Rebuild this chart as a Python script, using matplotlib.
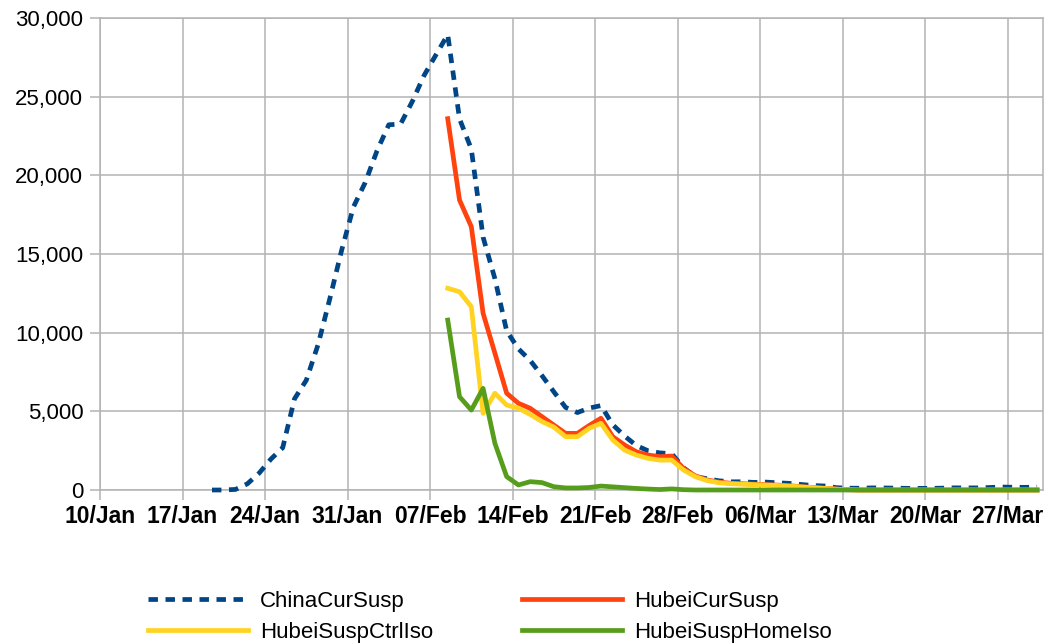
import matplotlib
matplotlib.use("Agg")
import matplotlib.pyplot as plt
import matplotlib.dates as mdates
import pandas as pd

# daily values, points sit at noon of each day
china_start = "2020-01-19"
hubei_start = "2020-02-08"
last_day = "2020-03-29"

china_cur_susp = [0, 0, 37, 393, 1072, 1965, 2684, 5794, 6973, 9239, 12167, 15238, 17988,
                  19544, 21558, 23214, 23260, 24702, 26359, 27657, 28942, 23589, 21675,
                  16067, 13435, 10109, 8969, 8228, 7264, 6242, 5248, 4922, 5206, 5365,
                  4148, 3434, 2824, 2491, 2358, 2308, 1418, 851,
                  715, 587, 520, 522, 482, 502, 458, 421, 349, 285, 253, 147, 115, 113,
                  134, 128, 119, 105, 104, 106, 118, 136, 132, 134, 159, 189, 174, 168, 183]

hubei_cur_susp = [23600, 18430, 16740, 11230, 8700, 6150, 5510, 5190, 4660, 4130, 3600,
                  3600, 4100, 4560, 3390, 2860, 2430, 2220, 2120, 2160, 1380, 900,
                  640, 500, 430, 400, 370, 340, 310, 270, 210, 160, 110, 60, 20,
                  0, 0, 0, 0, 0, 0, 0, 0, 0, 0, 0, 0, 0, 0, 0, 0]

hubei_susp_ctrl_iso = [12820, 12600, 11650, 4870, 6150, 5400, 5200, 4800, 4350, 4000, 3390,
                       3390, 3920, 4240, 3180, 2540, 2220, 2010, 1900, 1900, 1270, 850,
                       600, 460, 400, 370, 340, 320, 290, 250, 200, 150, 100, 50, 20,
                       0, 0, 0, 0, 0, 0, 0, 0, 0, 0, 0, 0, 0, 0, 0, 0]

hubei_susp_home_iso = [10800, 5930, 5080, 6460, 2970, 850, 320, 530, 470, 210, 130,
                       130, 160, 250, 200, 150, 100, 60, 30, 70, 20, 0,
                       0, 0, 0, 0, 0, 0, 0, 0, 0, 0, 0, 0, 0,
                       0, 0, 0, 0, 0, 0, 0, 0, 0, 0, 0, 0, 0, 0, 0, 0]

tick_dates = pd.date_range("2020-01-10", periods=12, freq="7D")

china_x = pd.date_range(china_start, last_day) + pd.Timedelta(hours=12)
hubei_x = pd.date_range(hubei_start, last_day) + pd.Timedelta(hours=12)

grid_col = "#b3b3b3"

fig = plt.figure(figsize=(10.56, 6.44), dpi=100)
ax = fig.add_axes([100 / 1056, 1 - 490 / 644, 943 / 1056, 472 / 644])

common = dict(lw=3.4, clip_on=False, zorder=3)
l1, = ax.plot(china_x, china_cur_susp, color="#004586", ls=(0, (2.0, 1.6)),
              label="ChinaCurSusp", **common)
l2, = ax.plot(hubei_x, hubei_cur_susp, color="#ff420e", label="HubeiCurSusp", **common)
l3, = ax.plot(hubei_x, hubei_susp_ctrl_iso, color="#ffd320", label="HubeiSuspCtrlIso",
              **common)
l4, = ax.plot(hubei_x, hubei_susp_home_iso, color="#579d1c", label="HubeiSuspHomeIso",
              **common)

ax.set_xlim(pd.Timestamp("2020-01-10"), pd.Timestamp("2020-03-30"))
ax.set_ylim(0, 30000)
ax.set_xticks(tick_dates)
ax.xaxis.set_major_formatter(mdates.DateFormatter("%d/%b"))
ax.set_yticks(range(0, 30001, 5000))
ax.yaxis.set_major_formatter(matplotlib.ticker.StrMethodFormatter("{x:,.0f}"))

ax.grid(True, color=grid_col, lw=1.1)
ax.set_axisbelow(True)
for s in ax.spines.values():
    s.set_color(grid_col)
    s.set_linewidth(1.1)

ax.tick_params(axis="both", length=7, width=1.1, color=grid_col)
ax.tick_params(axis="y", pad=5)
ax.tick_params(axis="x", pad=4)
for lab in ax.get_yticklabels():
    lab.set_fontfamily("Liberation Sans")
    lab.set_fontsize(16)
for lab in ax.get_xticklabels():
    lab.set_fontfamily("Liberation Sans")
    lab.set_fontsize(16.5)
    lab.set_fontweight("bold")

fig.legend([l1, l3, l2, l4], [l.get_label() for l in [l1, l3, l2, l4]],
           loc="upper left", bbox_to_anchor=(148 / 1056, 1 - 591 / 644), ncol=2,
           frameon=False, handlelength=4.5, handletextpad=0.55, columnspacing=4.0,
           borderpad=0, borderaxespad=0, labelspacing=0.45,
           prop={"family": "Liberation Sans", "size": 16})

fig.savefig("out.png", dpi=100)
